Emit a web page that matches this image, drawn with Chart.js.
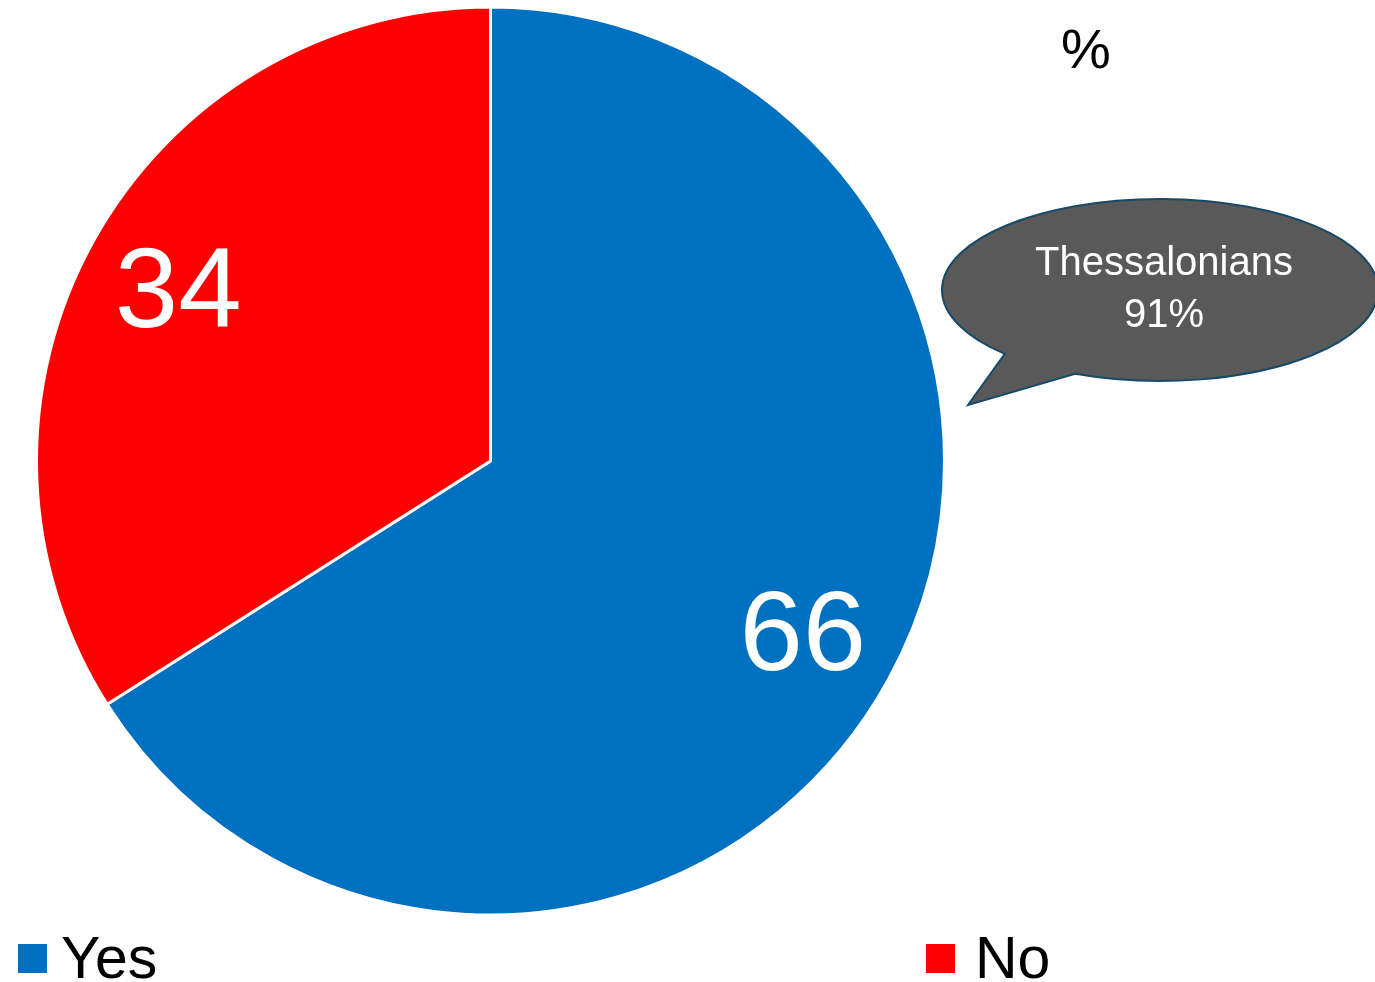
<!DOCTYPE html>
<html lang="en">
<head>
    <meta charset="UTF-8">
    <title>Yes / No</title>
    <script src="https://cdn.jsdelivr.net/npm/chart.js"></script>
    <style>
body {
    margin: 0;
    background: #fff;
    font-family: "Liberation Sans", Arial, sans-serif;
}
#wrap {
    position: relative;
    width: 1375px;
    height: 982px;
    overflow: hidden;
}
.legendItem {
    position: absolute;
    top: 929px;
    font-size: 59px;
    line-height: 58px;
    color: #000;
    white-space: nowrap;
}
.legendItem .box {
    position: absolute;
    top: 15px;
    width: 29px;
    height: 29px;
}
#pctMark {
    position: absolute;
    left: 1061px;
    top: 21px;
    font-size: 56px;
    line-height: 56px;
    color: #000;
}
    </style>
</head>
<body>
    <div id="wrap">
        <canvas id="PieChart"></canvas>
        <div id="pctMark">%</div>
        <div class="legendItem" style="left: 18px;"><span class="box" style="left: 0; background: #0070C0;"></span><span style="margin-left: 43px;">Yes</span></div>
        <div class="legendItem" style="left: 926px;"><span class="box" style="left: 0; background: #FF0000;"></span><span style="margin-left: 49px;">No</span></div>
    </div>
    <script>
const answers = ['Yes', 'No'];
const shares = [66, 34];
const sliceColors = ['#0070C0', '#FF0000'];
const calloutLines = ['Thessalonians', '91%'];

// numbers inside the slices, placed along each slice's middle angle
const sliceLabels = {
    id: 'sliceLabels',
    afterDatasetsDraw(chart) {
        const ctx = chart.ctx;
        const meta = chart.getDatasetMeta(0);
        ctx.save();
        ctx.fillStyle = '#fff';
        ctx.font = '114px "Liberation Sans", Arial, sans-serif';
        ctx.textAlign = 'center';
        ctx.textBaseline = 'middle';
        meta.data.forEach((arc, i) => {
            const mid = (arc.startAngle + arc.endAngle) / 2;
            const r = arc.outerRadius * 0.785;
            ctx.fillText(String(shares[i]), arc.x + Math.cos(mid) * r, arc.y + Math.sin(mid) * r + 6);
        });
        ctx.restore();
    }
};

// speech bubble on the right
const bubble = {
    id: 'bubble',
    afterDraw(chart) {
        const ctx = chart.ctx;
        const cx = 1160, cy = 290, rx = 218, ry = 91;
        const a1 = Math.atan2((353 - cy) / ry, (1007 - cx) / rx);
        const a2 = Math.atan2((372 - cy) / ry, (1077 - cx) / rx);
        ctx.save();
        ctx.beginPath();
        ctx.ellipse(cx, cy, rx, ry, 0, a1, a2 + Math.PI * 2);
        ctx.lineTo(968, 405);
        ctx.closePath();
        ctx.fillStyle = '#595959';
        ctx.fill();
        ctx.lineWidth = 2;
        ctx.strokeStyle = '#174a68';
        ctx.stroke();
        ctx.fillStyle = '#fff';
        ctx.font = '40px "Liberation Sans", Arial, sans-serif';
        ctx.textAlign = 'center';
        ctx.textBaseline = 'middle';
        ctx.fillText(calloutLines[0], 1164, 264);
        ctx.fillText(calloutLines[1], 1164, 316);
        ctx.restore();
    }
};

const pieCanvas = document.getElementById('PieChart');
pieCanvas.width = 1375;
pieCanvas.height = 982;
const pieChart = new Chart(pieCanvas, {
    type: 'pie',
    data: {
        labels: answers,
        datasets: [{
            data: shares,
            backgroundColor: sliceColors,
            borderColor: '#fff',
            borderWidth: 3
        }]
    },
    options: {
        responsive: false,
        animation: false,
        layout: { padding: { left: 35, top: 5, right: 429, bottom: 65 } },
        plugins: {
            legend: { display: false },
            tooltip: { enabled: false }
        }
    },
    plugins: [sliceLabels, bubble]
});
    </script>
</body>
</html>
